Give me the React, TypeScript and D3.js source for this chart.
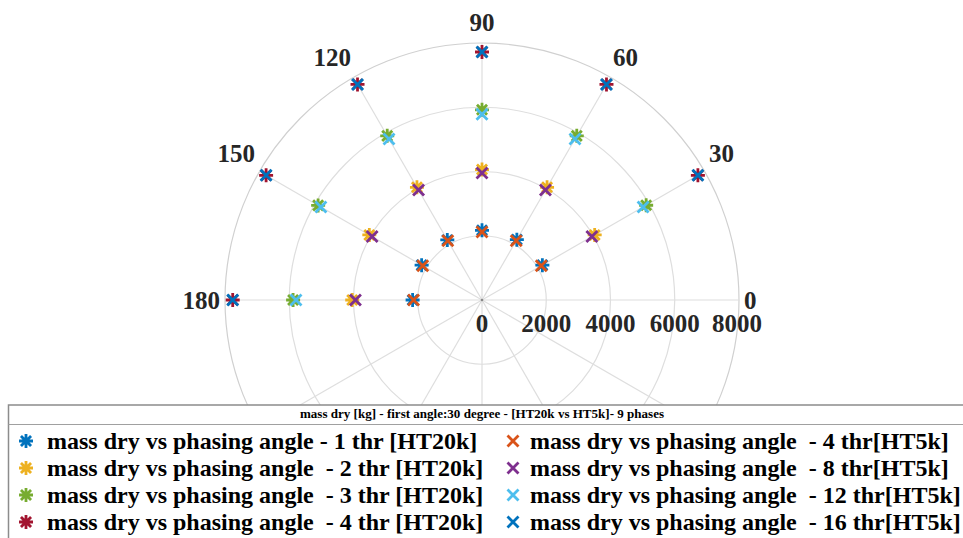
import React from "react";
import * as d3 from "d3";

// ---- data ----
const phasingAngles = [30, 60, 90, 120, 150, 180];
const thetaTicks = [0, 30, 60, 90, 120, 150, 180, 210, 240, 270, 300, 330];
const thetaLabels = ["0", "30", "60", "90", "120", "150", "180"];
const rTicks = [0, 2000, 4000, 6000, 8000];

const mass1thrHT20k = [2170, 2170, 2170, 2160, 2170, 2160];
const mass2thrHT20k = [4050, 4050, 4060, 4050, 4050, 4040];
const mass3thrHT20k = [5900, 5900, 5920, 5900, 5890, 5880];
const mass4thrHT20k = [7760, 7750, 7720, 7750, 7760, 7760];
const mass4thrHT5k = [2130, 2130, 2120, 2130, 2130, 2130];
const mass8thrHT5k = [3950, 3950, 3950, 3950, 3950, 3940];
const mass12thrHT5k = [5790, 5790, 5780, 5790, 5790, 5790];
const mass16thrHT5k = [7760, 7750, 7720, 7750, 7760, 7760];

const seriesNames = [
  "mass dry vs phasing angle - 1 thr [HT20k]",
  "mass dry vs phasing angle  - 2 thr [HT20k]",
  "mass dry vs phasing angle  - 3 thr [HT20k]",
  "mass dry vs phasing angle  - 4 thr [HT20k]",
  "mass dry vs phasing angle  - 4 thr[HT5k]",
  "mass dry vs phasing angle  - 8 thr[HT5k]",
  "mass dry vs phasing angle  - 12 thr[HT5k]",
  "mass dry vs phasing angle  - 16 thr[HT5k]",
];
const seriesValues = [
  mass1thrHT20k, mass2thrHT20k, mass3thrHT20k, mass4thrHT20k,
  mass4thrHT5k, mass8thrHT5k, mass12thrHT5k, mass16thrHT5k,
];
const seriesColors = [
  "#0072BD", "#EDB120", "#77AC30", "#A2142F",
  "#D95319", "#7E2F8E", "#4DBEEE", "#0072BD",
];
const seriesMarkers = ["*", "*", "*", "*", "x", "x", "x", "x"];
const legendTitle = "mass dry [kg] - first angle:30 degree - [HT20k vs HT5k]- 9 phases";

// ---- layout ----
const W = 963, H = 538;
const cx = 482, cy = 300, R = 257;
const FONT = "'Liberation Serif', 'Times New Roman', serif";

function markerPath(m: string): string {
  if (m === "*") {
    const s = 7, d = s * 0.72;
    return `M${-s},0L${s},0M0,${-s}L0,${s}M${-d},${-d}L${d},${d}M${-d},${d}L${d},${-d}`;
  }
  const d = 5.5;
  return `M${-d},${-d}L${d},${d}M${-d},${d}L${d},${-d}`;
}

export default function App() {
  const r = d3.scaleLinear().domain([0, 8000]).range([0, R]);
  const rad = (deg: number) => (deg * Math.PI) / 180;
  const px = (deg: number, v: number) => cx + r(v) * Math.cos(rad(deg));
  const py = (deg: number, v: number) => cy - r(v) * Math.sin(rad(deg));

  const gridColor = "#dedede";
  const RL = 262;

  return (
    <svg width={W} height={H} style={{ position: "absolute", left: 0, top: 0, background: "#fff" }}>
      <rect x={0} y={0} width={W} height={H} fill="#fff" />
      {/* grid circles */}
      {rTicks.slice(1).map((t) => (
        <circle key={t} cx={cx} cy={cy} r={r(t)} fill="none"
          stroke={t === 8000 ? "#d0d0d0" : gridColor} strokeWidth={1.2} />
      ))}
      {/* spokes */}
      {thetaTicks.map((a) => (
        <line key={a} x1={cx} y1={cy} x2={px(a, 8000)} y2={py(a, 8000)}
          stroke={gridColor} strokeWidth={1.2} />
      ))}
      <circle cx={cx} cy={cy} r={1.3} fill="#888" />
      {/* theta labels */}
      {thetaLabels.map((t) => {
        const a = +t;
        const c = Math.cos(rad(a)), s = Math.sin(rad(a));
        const x = cx + RL * c;
        const y = cy - RL * s;
        const anchor = c > 0.01 ? "start" : c < -0.01 ? "end" : "middle";
        const baseline = s > 0.01 ? y - 7.5 : y + 8.5;
        return (
          <text key={t} x={x} y={baseline} textAnchor={anchor} fontFamily={FONT}
            fontWeight="bold" fontSize={25} fill="#262626">{t}</text>
        );
      })}
      {/* r labels */}
      {rTicks.map((t) => (
        <text key={t} x={cx + r(t) - (t === 8000 ? 2 : 0)} y={332} textAnchor="middle" fontFamily={FONT}
          fontWeight="bold" fontSize={25} fill="#262626">{t}</text>
      ))}
      {/* data markers */}
      {seriesValues.map((vals, si) => (
        <g key={si} stroke={seriesColors[si]} strokeWidth={2.8} fill="none" strokeLinecap="butt">
          {vals.map((v, i) => (
            <path key={i} d={markerPath(seriesMarkers[si])}
              transform={`translate(${px(phasingAngles[i], v)},${py(phasingAngles[i], v)})`} />
          ))}
        </g>
      ))}
      {/* legend */}
      <g>
        <rect x={8.5} y={405} width={W + 20} height={H} fill="#fff" stroke="#8c8c8c" strokeWidth={1.5} />
        <line x1={8.5} x2={W} y1={424.5} y2={424.5} stroke="#a0a0a0" strokeWidth={1} />
        <text x={482} y={418} textAnchor="middle" fontFamily={FONT} fontWeight="bold"
          fontSize={12.5} textLength={364} lengthAdjust="spacingAndGlyphs" fill="#000">{legendTitle}</text>
        {seriesNames.map((name, i) => {
          const col = Math.floor(i / 4), row = i % 4;
          const mx = col === 0 ? 26 : 513;
          const tx = col === 0 ? 47 : 530;
          const my = 441 + row * 27;
          return (
            <g key={i}>
              <path d={markerPath(seriesMarkers[i])} transform={`translate(${mx},${my})`}
                stroke={seriesColors[i]} strokeWidth={2.8} fill="none" />
              <text x={tx} y={my + 8} fontFamily={FONT} fontWeight="bold" fontSize={24}
                fill="#000" style={{ whiteSpace: "pre" }}>{name}</text>
            </g>
          );
        })}
      </g>
    </svg>
  );
}
